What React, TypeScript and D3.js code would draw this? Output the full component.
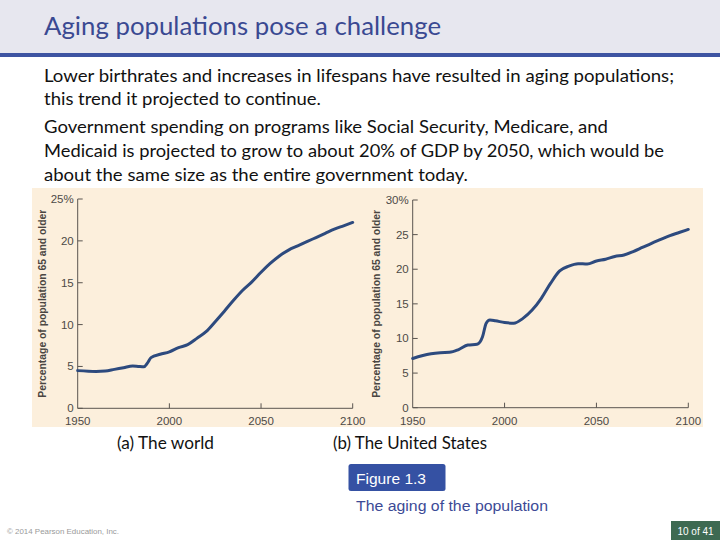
import React from "react";
import * as d3 from "d3";

const worldYears = [1950, 1960, 1965, 1970, 1975, 1980, 1983, 1986, 1988, 1990, 1995, 2000, 2005, 2010, 2015, 2020, 2025, 2030, 2035, 2040, 2045, 2050, 2055, 2060, 2065, 2070, 2075, 2080, 2085, 2090, 2095, 2100];
const worldValues = [4.5, 4.4, 4.45, 4.65, 4.85, 5.05, 5.0, 4.95, 5.4, 6.05, 6.45, 6.75, 7.25, 7.6, 8.35, 9.15, 10.35, 11.6, 12.9, 14.1, 15.1, 16.25, 17.3, 18.2, 18.9, 19.4, 19.9, 20.4, 20.9, 21.4, 21.8, 22.2];

const usYears = [1950, 1955, 1960, 1965, 1970, 1975, 1980, 1985, 1988, 1990, 1992, 1995, 2000, 2005, 2010, 2015, 2020, 2025, 2030, 2035, 2040, 2045, 2050, 2055, 2060, 2065, 2070, 2075, 2080, 2085, 2090, 2095, 2100];
const usValues = [7.1, 7.5, 7.8, 7.95, 8.0, 8.4, 9.05, 9.15, 10.25, 12.2, 12.65, 12.55, 12.3, 12.2, 12.9, 14.1, 15.8, 17.95, 19.75, 20.45, 20.8, 20.75, 21.2, 21.45, 21.85, 22.05, 22.55, 23.15, 23.75, 24.3, 24.85, 25.3, 25.75];

const xTicks = [1950, 2000, 2050, 2100];
const worldYTicks = [0, 5, 10, 15, 20, 25];
const usYTicks = [0, 5, 10, 15, 20, 25, 30];

const title = "Aging populations pose a challenge";
const bodyLines = [
  "Lower birthrates and increases in lifespans have resulted in aging populations;",
  "this trend it projected to continue.",
  "Government spending on programs like Social Security, Medicare, and",
  "Medicaid is projected to grow to about 20% of GDP by 2050, which would be",
  "about the same size as the entire government today.",
];
const bodyY = [81.5, 105, 133, 157, 181];
const bodyW = [630, 277, 564, 620, 424];
const yLabel = "Percentage of population 65 and older";

type PanelProps = {
  years: number[];
  values: number[];
  yTicks: number[];
  yMax: number;
  xRange: [number, number];
  yRange: [number, number];
  labelX: number;
};

function Panel({ years, values, yTicks, yMax, xRange, yRange, labelX }: PanelProps) {
  const x = d3.scaleLinear().domain([1950, 2100]).range(xRange);
  const y = d3.scaleLinear().domain([0, yMax]).range(yRange);
  const data = years.map((yr, i) => [yr, values[i]] as [number, number]);
  const line = d3
    .line<[number, number]>()
    .x((d) => x(d[0]))
    .y((d) => y(d[1]))
    .curve(d3.curveMonotoneX);
  const axisColor = "#5a5550";
  const x0 = x(1950);
  const y0 = y(0);
  const labelMid = (y(0) + y(yMax)) / 2;
  return (
    <g>
      <line x1={x0} x2={x0} y1={y0} y2={y(yMax)} stroke={axisColor} strokeWidth={1} />
      <line x1={x0} x2={x(2100)} y1={y0} y2={y0} stroke={axisColor} strokeWidth={1} />
      {yTicks.map((t) => (
        <g key={"y" + t}>
          <line x1={x0} x2={x0 + 5} y1={y(t)} y2={y(t)} stroke={axisColor} strokeWidth={1} />
          <text
            x={x0 - 4}
            y={y(t) + 4}
            textAnchor="end"
            fontFamily="'Liberation Sans', Arial, sans-serif"
            fontSize={11.5}
            fill="#4d4a47"
          >
            {t === yMax ? `${t}%` : t}
          </text>
        </g>
      ))}
      {xTicks.map((t) => (
        <g key={"x" + t}>
          {t !== 1950 && (
            <line x1={x(t)} x2={x(t)} y1={y0} y2={y0 - 5} stroke={axisColor} strokeWidth={1} />
          )}
          <text
            x={x(t)}
            y={425}
            textAnchor="middle"
            fontFamily="'Liberation Sans', Arial, sans-serif"
            fontSize={11.5}
            fill="#4d4a47"
          >
            {t}
          </text>
        </g>
      ))}
      <text
        transform={`translate(${labelX},${labelMid}) rotate(-90)`}
        textAnchor="middle"
        dominantBaseline="central"
        fontFamily="'Liberation Sans', Arial, sans-serif"
        fontWeight="bold"
        fontSize={11}
        fill="#4a4642"
        textLength={188}
        lengthAdjust="spacingAndGlyphs"
      >
        {yLabel}
      </text>
      <path d={line(data) || ""} fill="none" stroke="#2d4a7e" strokeWidth={3} strokeLinecap="round" />
    </g>
  );
}

export default function App() {
  return (
    <svg
      width={720}
      height={540}
      viewBox="0 0 720 540"
      style={{ position: "absolute", left: 0, top: 0, background: "#ffffff" }}
    >
      <rect x={0} y={0} width={720} height={540} fill="#ffffff" />
      <rect x={0} y={0} width={720} height={53} fill="#e7e7ef" />
      <rect x={0} y={53} width={720} height={4} fill="#3e54a2" />
      <text
        x={44}
        y={35}
        fontFamily="Lato, 'Open Sans', sans-serif"
        fontSize={24.5}
        fill="#3a4992"
        textLength={397}
        lengthAdjust="spacingAndGlyphs"
      >
        {title}
      </text>
      {bodyLines.map((l, i) => (
        <text
          key={i}
          x={44}
          y={bodyY[i]}
          fontFamily="Lato, 'Open Sans', sans-serif"
          fontSize={17.5}
          fill="#111111"
          textLength={bodyW[i]}
          lengthAdjust="spacingAndGlyphs"
        >
          {l}
        </text>
      ))}
      <rect x={32} y={188} width={671} height={239} fill="#fcefdc" />
      <Panel
        years={worldYears}
        values={worldValues}
        yTicks={worldYTicks}
        yMax={25}
        xRange={[77.7, 352.7]}
        yRange={[408.3, 199]}
        labelX={42}
      />
      <Panel
        years={usYears}
        values={usValues}
        yTicks={usYTicks}
        yMax={30}
        xRange={[412.7, 688.3]}
        yRange={[407.7, 200]}
        labelX={375.5}
      />
      <text x={117} y={449} fontFamily="Lato, 'Open Sans', sans-serif" fontSize={16.5} fill="#111" textLength={97} lengthAdjust="spacingAndGlyphs">
        (a) The world
      </text>
      <text x={333} y={449} fontFamily="Lato, 'Open Sans', sans-serif" fontSize={16.5} fill="#111" textLength={154} lengthAdjust="spacingAndGlyphs">
        (b) The United States
      </text>
      <rect x={348.5} y={464} width={97} height={27} rx={2.5} fill="#3551a3" />
      <text x={356} y={483.5} fontFamily="'Liberation Sans', Arial, sans-serif" fontSize={15.5} fill="#ffffff" textLength={70} lengthAdjust="spacingAndGlyphs">
        Figure 1.3
      </text>
      <text x={356} y={511} fontFamily="'Liberation Sans', Arial, sans-serif" fontSize={15.5} fill="#3c4a96" textLength={192} lengthAdjust="spacingAndGlyphs">
        The aging of the population
      </text>
      <text x={7} y={534} fontFamily="'Liberation Sans', Arial, sans-serif" fontSize={7.5} fill="#9a9a9a" textLength={112} lengthAdjust="spacingAndGlyphs">
        © 2014 Pearson Education, Inc.
      </text>
      <rect x={671} y={521} width={49} height={19} fill="#3e6a52" />
      <text x={695.5} y={534.5} textAnchor="middle" fontFamily="'Liberation Sans', Arial, sans-serif" fontSize={10} fill="#ffffff">
        10 of 41
      </text>
    </svg>
  );
}
